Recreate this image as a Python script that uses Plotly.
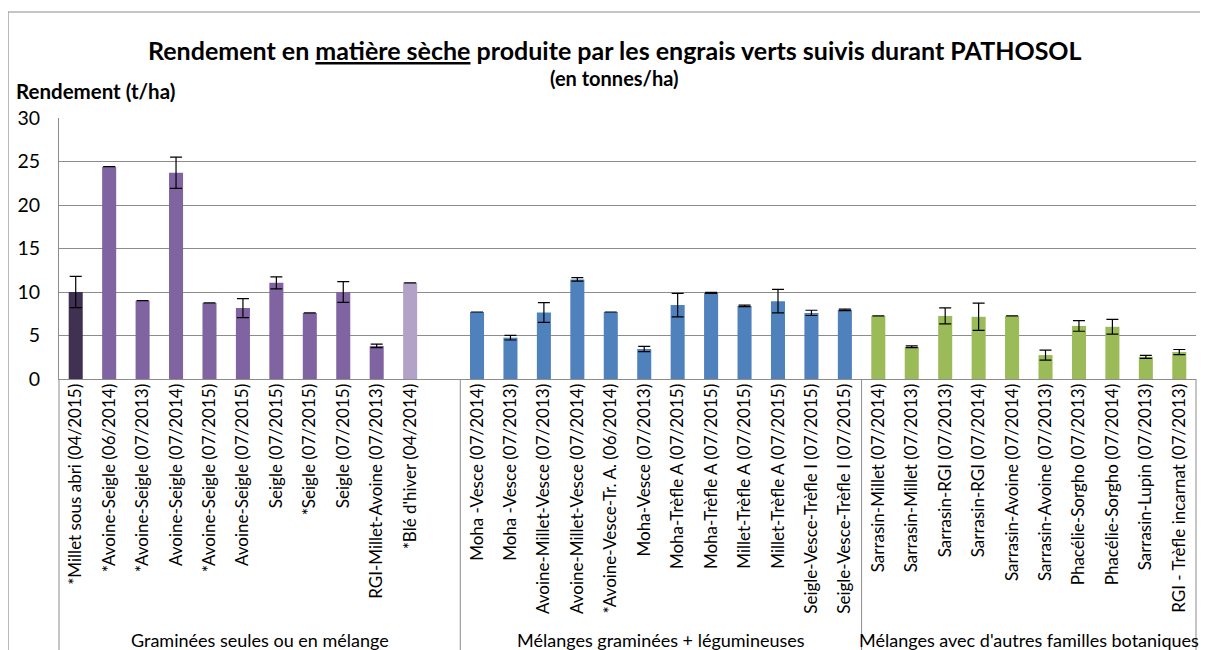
import plotly.graph_objects as go

# ---------------- data ----------------
group_names = [
    "Graminées seules ou en mélange",
    "Mélanges graminées + légumineuses",
    "Mélanges avec d'autres familles botaniques",
]

cat_g1 = [
    "*Millet sous abri (04/2015)", "*Avoine-Seigle (06/2014)", "*Avoine-Seigle (07/2013)",
    "Avoine-Seigle (07/2014)", "*Avoine-Seigle (07/2015)", "Avoine-Seigle (07/2015)",
    "Seigle (07/2015)", "*Seigle (07/2015)", "Seigle (07/2015)",
    "RGI-Millet-Avoine (07/2013)", "*Blé d'hiver (04/2014)",
]
val_g1 = [10.0, 24.4, 9.0, 23.7, 8.75, 8.15, 11.05, 7.6, 10.0, 3.8, 11.05]
err_g1 = [1.8, None, None, 1.8, None, 1.1, 0.7, None, 1.2, 0.2, None]

cat_g2 = [
    "Moha -Vesce (07/2014)", "Moha -Vesce (07/2013)", "Avoine-Millet-Vesce (07/2013)",
    "Avoine-Millet-Vesce (07/2014)", "*Avoine-Vesce-Tr. A. (06/2014)", "Moha-Vesce (07/2013)",
    "Moha-Trèfle A (07/2015)", "Moha-Trèfle A (07/2015)", "Millet-Trèfle A (07/2015)",
    "Millet-Trèfle A (07/2015)", "Seigle-Vesce-Trèfle I (07/2015)", "Seigle-Vesce-Trèfle I (07/2015)",
]
val_g2 = [7.7, 4.75, 7.65, 11.45, 7.7, 3.45, 8.5, 9.9, 8.4, 8.95, 7.6, 7.95]
err_g2 = [None, 0.27, 1.13, 0.21, None, 0.3, 1.35, 0.05, 0.08, 1.35, 0.3, 0.08]

cat_g3 = [
    "Sarrasin-Millet (07/2014)", "Sarrasin-Millet (07/2013)", "Sarrasin-RGI (07/2013)",
    "Sarrasin-RGI (07/2014)", "Sarrasin-Avoine (07/2014)", "Sarrasin-Avoine (07/2013)",
    "Phacélie-Sorgho (07/2013)", "Phacélie-Sorgho (07/2014)", "Sarrasin-Lupin (07/2013)",
    "RGI - Trèfle incarnat (07/2013)",
]
val_g3 = [7.25, 3.7, 7.25, 7.15, 7.25, 2.75, 6.1, 6.0, 2.55, 3.1]
err_g3 = [None, 0.1, 0.92, 1.57, None, 0.57, 0.61, 0.85, 0.17, 0.29]

y_ticks = [0, 5, 10, 15, 20, 25, 30]

# ---------------- styling / layout ----------------
OFF = 8                                  # page body margin (px)
W, H = 1208 - OFF, 650 - OFF
L, R, T, B = 59 - OFF, 1196 - OFF, 118 - OFF, 379 - OFF   # plot area in figure px
group_slots = [12, 12, 10]               # category slots per group (group 1 has an empty slot)
FONT = "Lato"
GRID = "#8c8c8c"

purple, purple_dark, purple_light = "#8064A2", "#403152", "#B3A2C7"
blue, green = "#4F81BD", "#9BBB59"
col_g1 = [purple_dark] + [purple] * (len(val_g1) - 2) + [purple_light]
col_g2 = [blue] * len(val_g2)
col_g3 = [green] * len(val_g3)


def px_x(px):
    """screen px (page coords) -> paper x"""
    return (px - OFF - L) / (R - L)


def px_y(py):
    """screen px (page coords) -> paper y"""
    return (B - (py - OFF)) / (B - T)


groups = [(cat_g1, val_g1, err_g1, col_g1),
          (cat_g2, val_g2, err_g2, col_g2),
          (cat_g3, val_g3, err_g3, col_g3)]

fig = go.Figure()
tickvals, ticktext = [], []
start = 0
bounds = [0]
for (cats, vals, errs, cols), n in zip(groups, group_slots):
    xs = list(range(start, start + len(cats)))
    tickvals += xs
    ticktext += cats
    fig.add_trace(go.Bar(
        x=xs, y=vals, marker=dict(color=cols, line=dict(width=0)),
        error_y=dict(type="data", array=errs, visible=True, color="black",
                     thickness=1.2, width=6),
        width=0.42, showlegend=False, hoverinfo="y",
    ))
    start += n
    bounds.append(start)
total = start

fig.update_xaxes(
    range=[-0.5, total - 0.5], tickmode="array", tickvals=tickvals, ticktext=ticktext,
    tickangle=-90, showgrid=False, zeroline=False, showline=True, linecolor=GRID,
    linewidth=1, ticks="", tickfont=dict(family=FONT, size=17, color="black"),
    ticklabelstandoff=-3, fixedrange=True, automargin=False,
)
fig.update_yaxes(
    range=[0, 30], tickvals=y_ticks, showgrid=True, gridcolor=GRID, gridwidth=1.3,
    zeroline=False, showline=True, linecolor=GRID, linewidth=1, ticks="",
    tickfont=dict(family=FONT, size=19.5, color="black"), ticklabelstandoff=14,
    fixedrange=True, automargin=False,
)

shapes = []
# group dividers below the axis
for b in bounds:
    xp = b / total
    shapes.append(dict(type="line", xref="paper", yref="paper", x0=xp, x1=xp,
                       y0=0, y1=px_y(670), line=dict(color=GRID, width=1)))
# outer chart border
shapes.append(dict(type="rect", xref="paper", yref="paper",
                   x0=px_x(8), x1=px_x(1230), y0=px_y(670), y1=px_y(12),
                   line=dict(color=GRID, width=1.2), fillcolor="rgba(0,0,0,0)"))

annotations = [
    dict(text="Rendement en <u>matière sèche</u> produite par les engrais verts suivis durant PATHOSOL",
         x=px_x(615), y=px_y(50), xref="paper", yref="paper", showarrow=False,
         xanchor="center", yanchor="middle",
         font=dict(family=FONT, size=25, color="black", weight="bold")),
    dict(text="(en tonnes/ha)", x=px_x(614), y=px_y(78), xref="paper", yref="paper",
         showarrow=False, xanchor="center", yanchor="middle",
         font=dict(family=FONT, size=20, color="black", weight="bold")),
    dict(text="Rendement (t/ha)", x=px_x(14), y=px_y(91), xref="paper", yref="paper",
         showarrow=False, xanchor="left", yanchor="middle",
         font=dict(family=FONT, size=20.5, color="black", weight="bold")),
]
for i, name in enumerate(group_names):
    xc = (bounds[i] + bounds[i + 1]) / 2 / total
    annotations.append(dict(text=name, x=xc, y=px_y(640), xref="paper", yref="paper",
                            showarrow=False, xanchor="center", yanchor="middle",
                            font=dict(family=FONT, size=18, color="black")))

fig.update_layout(
    width=W, height=H, autosize=False,
    margin=dict(l=L, r=W - R, t=T, b=H - B, pad=0),
    paper_bgcolor="white", plot_bgcolor="white",
    bargap=0.58, shapes=shapes, annotations=annotations,
    font=dict(family=FONT, color="black"),
)

fig.write_html("out.html")
